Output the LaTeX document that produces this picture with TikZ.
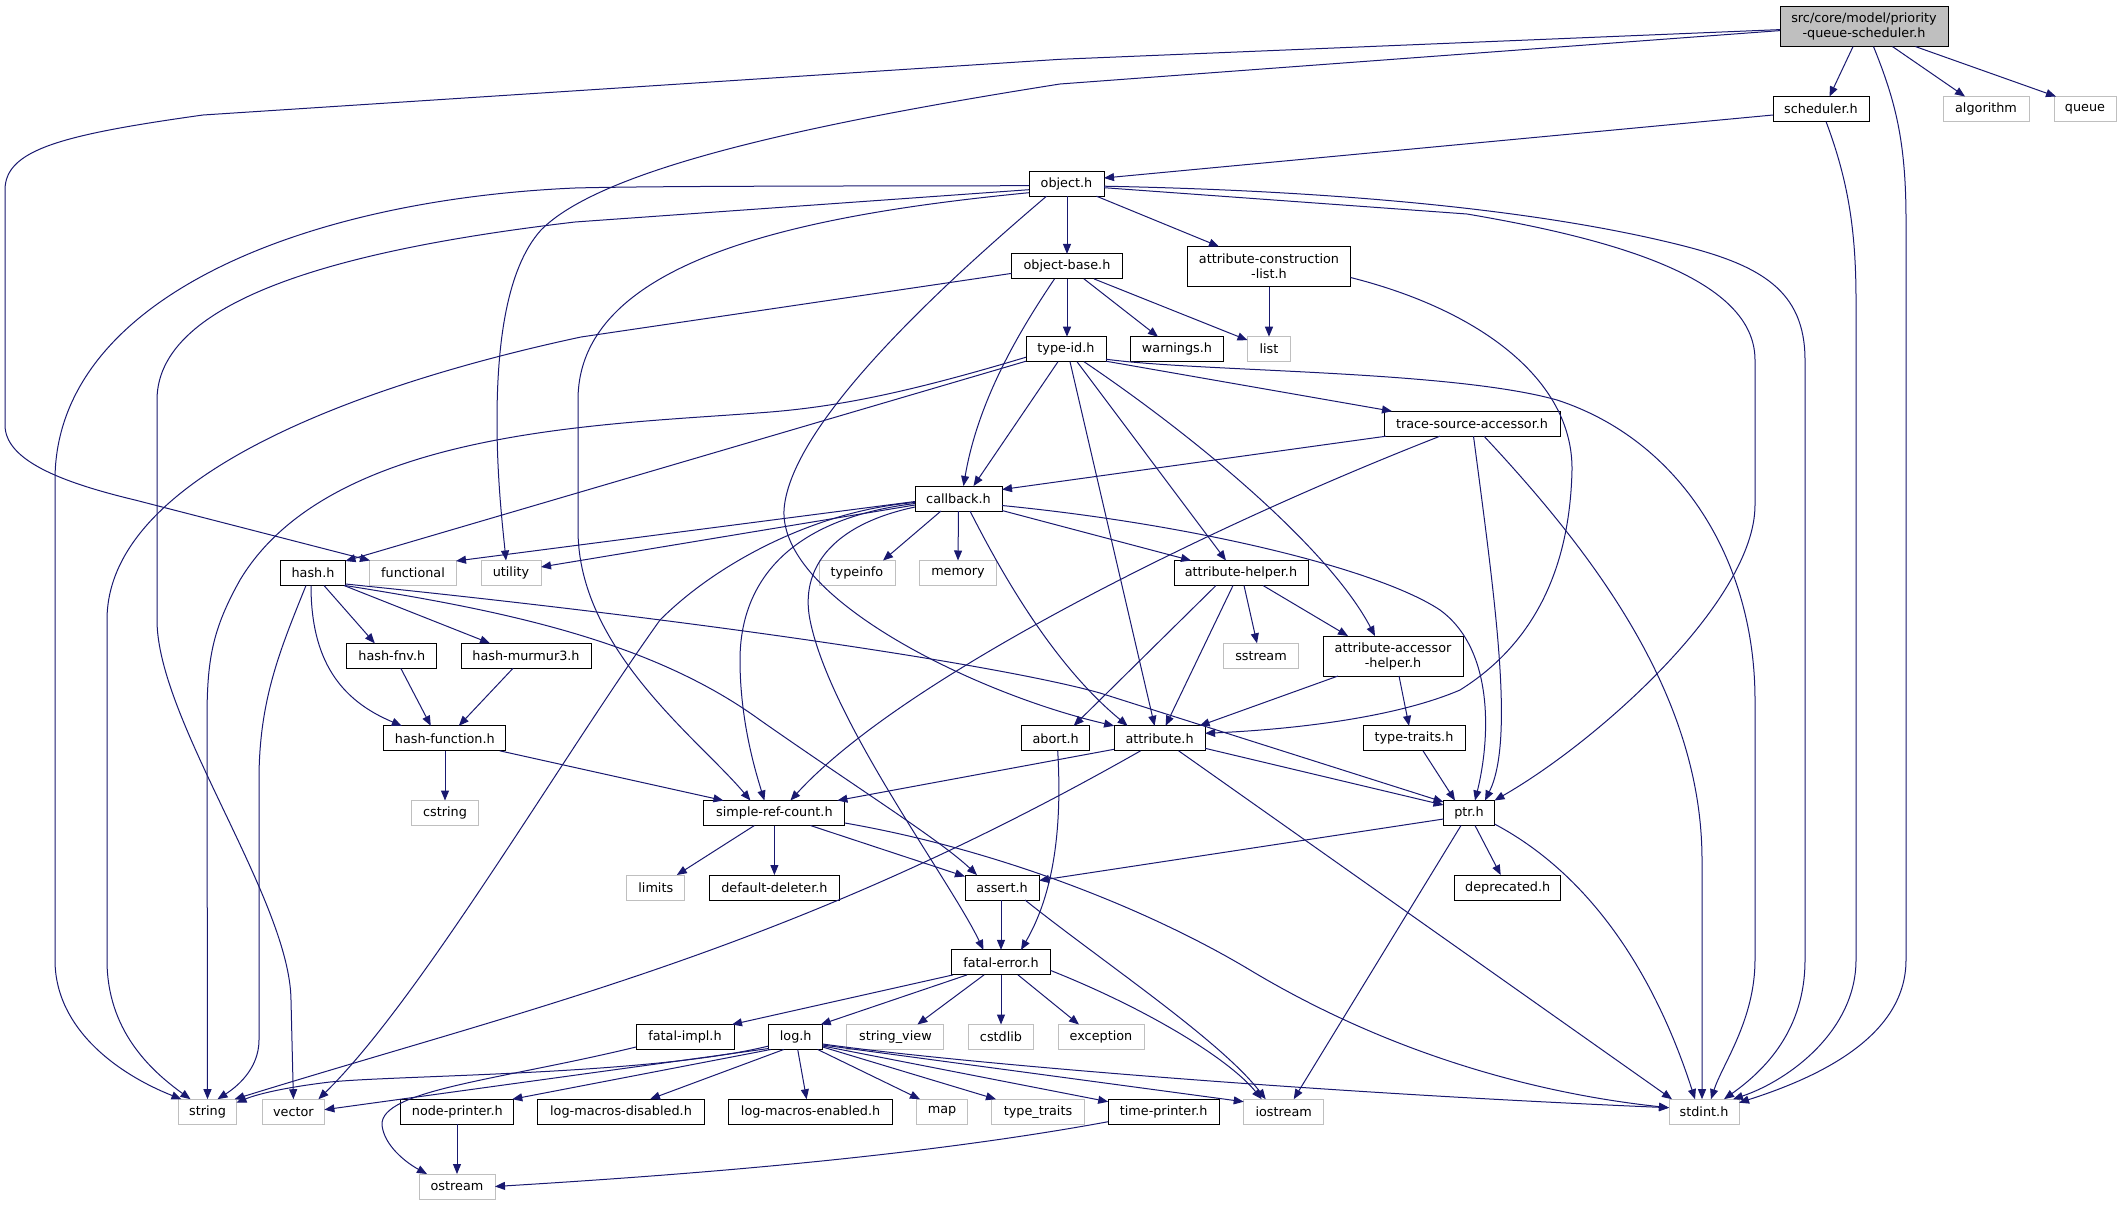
\documentclass[tikz,border=0pt]{standalone}
\usepackage{fontspec}
\setmainfont{DejaVu Sans}
\usetikzlibrary{arrows.meta,calc}
\definecolor{edgeblue}{HTML}{191970}
\definecolor{sysgrey}{HTML}{BFBFBF}
\definecolor{rootgrey}{HTML}{BFBFBF}
\tikzset{
  box/.style={draw, line width=1pt, fill=white, inner sep=0pt, minimum height=25pt,
    font=\fontsize{12.8}{15}\selectfont, align=center},
  proj/.style={box, draw=black},
  sys/.style={box, draw=sysgrey},
  e/.style={draw=edgeblue, line width=1pt, -{Triangle[length=10pt,width=8pt]}},
}
\begin{document}
\begin{tikzpicture}[x=1pt,y=-1pt]
\fill[white] (0,0) rectangle (2123,1205);
\useasboundingbox (0,0) rectangle (2123,1205);

% ---------------- nodes ----------------
\node[proj, fill=rootgrey, minimum width=168pt, minimum height=40pt] (root) at (1864,26.6) {src/core/model/priority\\-queue-scheduler.h};
\node[proj, minimum width=96pt] (sched) at (1821,109) {scheduler.h};
\node[sys, minimum width=86pt] (algorithm) at (1986,109) {algorithm};
\node[sys, minimum width=62pt] (queue) at (2085,109) {queue};
\node[proj, minimum width=75pt] (object) at (1066.5,183.7) {object.h};
\node[proj, minimum width=111pt] (objbase) at (1067,266.4) {object-base.h};
\node[proj, minimum width=163pt, minimum height=40pt] (acl) at (1269,266.5) {attribute-construction\\-list.h};
\node[proj, minimum width=80pt] (typeid) at (1066,349.2) {type-id.h};
\node[proj, minimum width=93pt] (warnings) at (1177,349.2) {warnings.h};
\node[sys, minimum width=43pt] (list) at (1269,349.2) {list};
\node[proj, minimum width=176pt] (tsa) at (1472,423.7) {trace-source-accessor.h};
\node[proj, minimum width=87pt] (callback) at (958.5,498.5) {callback.h};
\node[proj, minimum width=65pt] (hash) at (313,573) {hash.h};
\node[sys, minimum width=87pt] (functional) at (413,573) {functional};
\node[sys, minimum width=60pt] (utility) at (511,573) {utility};
\node[sys, minimum width=76pt] (typeinfo) at (857,573) {typeinfo};
\node[sys, minimum width=77pt] (memory) at (958,573) {memory};
\node[proj, minimum width=134pt] (ahelper) at (1241,573) {attribute-helper.h};
\node[proj, minimum width=90pt] (hashfnv) at (391.8,655.8) {hash-fnv.h};
\node[proj, minimum width=130pt] (murmur) at (526,655.8) {hash-murmur3.h};
\node[sys, minimum width=75pt] (sstream) at (1261,655.8) {sstream};
\node[proj, minimum width=140pt, minimum height=40pt] (aah) at (1393,656) {attribute-accessor\\-helper.h};
\node[proj, minimum width=122pt] (hashfn) at (444.8,738.3) {hash-function.h};
\node[proj, minimum width=68pt] (abort) at (1055.7,738.3) {abort.h};
\node[proj, minimum width=91pt] (attribute) at (1159.6,738.3) {attribute.h};
\node[proj, minimum width=102pt] (typetraits) at (1414,738.3) {type-traits.h};
\node[sys, minimum width=67pt] (cstring) at (445,813) {cstring};
\node[proj, minimum width=141pt] (src) at (774.4,813) {simple-ref-count.h};
\node[proj, minimum width=51pt] (ptr) at (1469,813) {ptr.h};
\node[sys, minimum width=58pt] (limits) at (655.8,887.5) {limits};
\node[proj, minimum width=130pt] (deleter) at (774.4,887.5) {default-deleter.h};
\node[proj, minimum width=74pt] (assert) at (1002,887.5) {assert.h};
\node[proj, minimum width=106pt] (deprecated) at (1507.7,887.5) {deprecated.h};
\node[proj, minimum width=99pt] (fatal) at (1001,962.4) {fatal-error.h};
\node[proj, minimum width=98pt] (fatalimpl) at (685,1037) {fatal-impl.h};
\node[proj, minimum width=54pt] (log) at (795.7,1037) {log.h};
\node[sys, minimum width=97pt] (stringview) at (895.4,1037) {string\_view};
\node[sys, minimum width=65pt] (cstdlib) at (1001,1037) {cstdlib};
\node[sys, minimum width=86pt] (exception) at (1101,1037) {exception};
\node[sys, minimum width=58pt] (string) at (207.5,1111.7) {string};
\node[sys, minimum width=62pt] (vector) at (293.4,1111.7) {vector};
\node[proj, minimum width=113pt] (nodeprinter) at (457.3,1111.7) {node-printer.h};
\node[proj, minimum width=167pt] (lmd) at (621,1111.7) {log-macros-disabled.h};
\node[proj, minimum width=164pt] (lme) at (810.6,1111.7) {log-macros-enabled.h};
\node[sys, minimum width=51pt] (map) at (942,1111.7) {map};
\node[sys, minimum width=93pt] (tts) at (1038,1111.7) {type\_traits};
\node[proj, minimum width=111pt] (timeprinter) at (1163.7,1111.7) {time-printer.h};
\node[sys, minimum width=80pt] (iostream) at (1283.7,1111.7) {iostream};
\node[sys, minimum width=70pt] (stdint) at (1704,1111.7) {stdint.h};
\node[sys, minimum width=76pt] (ostream) at (457,1186.5) {ostream};

% ---------------- edges ----------------
% root
\draw[e] ($(root)+(-11,20)$) -- ($(sched)+(8.5,-12.5)$);
\draw[e] ($(root)+(28.5,20)$) -- ($(algorithm)+(-21,-12.5)$);
\draw[e] ($(root)+(51.5,20)$) -- ($(queue)+(-29,-12.5)$);
\draw[e] ($(root)+(9.5,20)$) .. controls (1895,100) and (1906,140) .. (1906,220) -- (1906,960)
   .. controls (1906,1040) and (1810,1080) .. ($(stdint)+(35,-9)$);
\draw[e] ($(root)+(-84,3)$) -- (1060,59.3) -- (203,115) .. controls (60,135) and (5,150) .. (5,190) -- (5,425)
   .. controls (5,460) and (60,482) .. (135,500) -- ($(functional)+(-43,-12.5)$);
\draw[e] ($(root)+(-84,4)$) -- (1060,84) .. controls (800,125) and (600,170) .. (541,230)
   .. controls (505,270) and (497,350) .. (497,421) .. controls (497,480) and (503,530) .. ($(utility)+(-5,-12.5)$);
% scheduler
\draw[e] ($(sched)+(-48,6)$) -- ($(object)+(37.5,-5.7)$);
\draw[e] ($(sched)+(5,12.5)$) .. controls (1848,180) and (1856,230) .. (1856,300) -- (1856,960)
   .. controls (1856,1030) and (1790,1080) .. ($(stdint)+(29,-12.5)$);
% object
\draw[e] ($(object)+(0.5,12.5)$) -- ($(objbase)+(0,-12.5)$);
\draw[e] ($(object)+(30,12.5)$) -- ($(acl)+(-50,-20)$);
\draw[e] ($(object)+(-20,12.5)$) .. controls (960,270) and (790,420) .. (784,510)
   .. controls (780,600) and (980,695) .. ($(attribute)+(-45.5,-12.5)$);
\draw[e] ($(object)+(37.5,4)$) -- (1467,214) .. controls (1620,240) and (1755,280) .. (1755,360) -- (1755,505)
   .. controls (1755,600) and (1600,740) .. ($(ptr)+(25.5,-12.5)$);
\draw[e] ($(object)+(37.5,2.5)$) .. controls (1300,190) and (1520,205) .. (1680,245)
   .. controls (1760,265) and (1805,290) .. (1805,360) -- (1805,960)
   .. controls (1805,1030) and (1765,1070) .. ($(stdint)+(20,-12.5)$);
\draw[e] ($(object)+(-37.5,9)$) .. controls (800,215) and (578,260) .. (578,400) -- (578,530)
   .. controls (578,650) and (700,740) .. ($(src)+(-24,-12.5)$);
\draw[e] ($(object)+(-37.5,2)$) .. controls (850,186) and (650,186) .. (575,188)
   .. controls (300,200) and (55,300) .. (55,480) -- (55,960)
   .. controls (55,1030) and (120,1075) .. ($(string)+(-26,-12.5)$);
\draw[e] ($(object)+(-37.5,6)$) -- (575,222) .. controls (380,245) and (157,290) .. (157,400) -- (157,620)
   .. controls (157,720) and (290,900) .. (291,1000) -- ($(vector)+(0,-12.5)$);
% object-base
\draw[e] ($(objbase)+(-12.5,12.5)$) .. controls (1020,330) and (978,400) .. ($(callback)+(5,-12.5)$);
\draw[e] ($(objbase)+(0,12.5)$) -- ($(typeid)+(1,-12.5)$);
\draw[e] ($(objbase)+(17,12.5)$) -- ($(warnings)+(-19,-12.5)$);
\draw[e] ($(objbase)+(27,12.5)$) -- ($(list)+(-21.5,-9)$);
\draw[e] ($(objbase)+(-55.5,7)$) -- (581,337) .. controls (380,380) and (107,470) .. (107,620) -- (107,960)
   .. controls (107,1030) and (150,1070) .. ($(string)+(-17,-12.5)$);
% attribute-construction-list
\draw[e] ($(acl)+(0,20)$) -- ($(list)+(0,-12.5)$);
\draw[e] ($(acl)+(81.5,11)$) .. controls (1480,310) and (1573,380) .. (1572,470)
   .. controls (1570,560) and (1540,640) .. (1460,690)
   .. controls (1390,720) and (1280,730) .. ($(attribute)+(45.5,-5)$);
% type-id
\draw[e] ($(typeid)+(4,12.5)$) -- ($(attribute)+(-5,-12.5)$);
\draw[e] ($(typeid)+(11,12.5)$) -- ($(ahelper)+(-15,-12.5)$);
\draw[e] ($(typeid)+(18,12.5)$) .. controls (1200,440) and (1330,550) .. ($(aah)+(-18,-20)$);
\draw[e] ($(typeid)+(-8,12.5)$) -- ($(callback)+(15,-12.5)$);
\draw[e] ($(typeid)+(-40,12)$) -- ($(hash)+(32.5,-12)$);
\draw[e] ($(typeid)+(-40,8)$) .. controls (900,395) and (830,408) .. (757,413)
   .. controls (600,425) and (330,430) .. (240,580)
   .. controls (212,630) and (207,660) .. (207,720) -- ($(string)+(0,-12.5)$);
\draw[e] ($(typeid)+(40,12)$) -- ($(tsa)+(-80,-12.5)$);
\draw[e] ($(typeid)+(40,10)$) .. controls (1200,372) and (1450,370) .. (1557,400)
   .. controls (1680,440) and (1755,560) .. (1755,700) -- (1755,960)
   .. controls (1755,1020) and (1722,1065) .. ($(stdint)+(7,-12.5)$);
% trace-source-accessor
\draw[e] ($(tsa)+(-86,12.5)$) -- ($(callback)+(43.5,-9)$);
\draw[e] ($(tsa)+(-32,12.5)$) .. controls (1200,530) and (900,680) .. ($(src)+(16,-12.5)$);
\draw[e] ($(tsa)+(1.5,12.5)$) .. controls (1495,600) and (1515,740) .. ($(ptr)+(16,-12.5)$);
\draw[e] ($(tsa)+(12,12.5)$) .. controls (1600,560) and (1702,700) .. (1702,860) -- ($(stdint)+(-2,-12.5)$);
% callback
\draw[e] ($(callback)+(-43.5,3)$) -- ($(functional)+(43,-12)$);
\draw[e] ($(callback)+(-43.5,6.5)$) -- ($(utility)+(30,-6)$);
\draw[e] ($(callback)+(-17.5,12.5)$) -- ($(typeinfo)+(26,-12.5)$);
\draw[e] ($(callback)+(0,12.5)$) -- ($(memory)+(0,-12.5)$);
\draw[e] ($(callback)+(43.5,12)$) -- ($(ahelper)+(-50,-12.5)$);
\draw[e] ($(callback)+(11.5,12.5)$) .. controls (1010,590) and (1060,670) .. ($(attribute)+(-32,-12.5)$);
\draw[e] ($(callback)+(43.5,7)$) .. controls (1200,525) and (1380,570) .. (1440,610)
   .. controls (1495,650) and (1490,740) .. ($(ptr)+(6,-12.5)$);
\draw[e] ($(callback)+(-43.5,5)$) .. controls (780,520) and (740,590) .. (740,660)
   .. controls (740,720) and (755,770) .. ($(src)+(-10,-12.5)$);
\draw[e] ($(callback)+(-43.5,4)$) .. controls (820,510) and (720,560) .. (660,620)
   .. controls (560,760) and (420,1000) .. ($(vector)+(25,-12.5)$);
\draw[e] ($(callback)+(-43.5,8.5)$) .. controls (830,525) and (800,570) .. (810,620)
   .. controls (830,720) and (950,880) .. ($(fatal)+(-17.5,-12.5)$);
% hash
\draw[e] ($(hash)+(-7,12.5)$) .. controls (280,650) and (259,700) .. (259,780) -- (259,1040)
   .. controls (259,1070) and (235,1088) .. ($(string)+(10,-12.5)$);
\draw[e] ($(hash)+(-2,12.5)$) .. controls (311,660) and (340,700) .. ($(hashfn)+(-43,-12.5)$);
\draw[e] ($(hash)+(11,12.5)$) -- ($(hashfnv)+(-17,-12.5)$);
\draw[e] ($(hash)+(31,12.5)$) -- ($(murmur)+(-36,-12.5)$);
\draw[e] ($(hash)+(32.5,11)$) .. controls (700,620) and (1000,665) .. (1100,693) -- ($(ptr)+(-25.5,-11)$);
\draw[e] ($(hash)+(32,12.5)$) .. controls (500,610) and (650,640) .. (760,720)
   .. controls (860,790) and (940,840) .. ($(assert)+(-25,-12.5)$);
\draw[e] ($(hashfnv)+(9,12.5)$) -- ($(hashfn)+(-14,-12.5)$);
\draw[e] ($(murmur)+(-13,12.5)$) -- ($(hashfn)+(14,-12.5)$);
\draw[e] ($(hashfn)+(0.2,12.5)$) -- ($(cstring)+(0,-12.5)$);
\draw[e] ($(hashfn)+(55,12.5)$) -- ($(src)+(-51,-12.5)$);
% attribute-helper
\draw[e] ($(ahelper)+(-25,12.5)$) -- ($(abort)+(18,-12.5)$);
\draw[e] ($(ahelper)+(-8,12.5)$) -- ($(attribute)+(6,-12.5)$);
\draw[e] ($(ahelper)+(3,12.5)$) -- ($(sstream)+(-4,-12.5)$);
\draw[e] ($(ahelper)+(22,12.5)$) -- ($(aah)+(-45,-20)$);
% attribute-accessor-helper
\draw[e] ($(aah)+(-55,20)$) -- ($(attribute)+(40,-12.5)$);
\draw[e] ($(aah)+(6,20)$) -- ($(typetraits)+(-5,-12.5)$);
% abort
\draw[e] ($(abort)+(2,12.5)$) .. controls (1063,840) and (1050,900) .. ($(fatal)+(20,-12.5)$);
% attribute
\draw[e] ($(attribute)+(-45.5,11)$) -- ($(src)+(63,-12.5)$);
\draw[e] ($(attribute)+(-19,12.5)$) .. controls (790,950) and (536,1006) .. ($(string)+(27,-12.5)$);
\draw[e] ($(attribute)+(19,12.5)$) -- ($(stdint)+(-32,-12.5)$);
\draw[e] ($(attribute)+(45.5,10)$) -- ($(ptr)+(-25.5,-8)$);
% type-traits
\draw[e] ($(typetraits)+(9,12.5)$) -- ($(ptr)+(-14,-12.5)$);
% ptr
\draw[e] ($(ptr)+(-25.5,6)$) -- ($(assert)+(37,-7)$);
\draw[e] ($(ptr)+(6,12.5)$) -- ($(deprecated)+(-7,-12.5)$);
\draw[e] ($(ptr)+(-8,12.5)$) -- ($(iostream)+(10,-12.5)$);
\draw[e] ($(ptr)+(25.5,11)$) .. controls (1600,880) and (1660,990) .. ($(stdint)+(-9,-12.5)$);
% simple-ref-count
\draw[e] ($(src)+(36,12.5)$) -- ($(assert)+(-37,-11)$);
\draw[e] ($(src)+(0,12.5)$) -- ($(deleter)+(0,-12.5)$);
\draw[e] ($(src)+(-20,12.5)$) -- ($(limits)+(21,-12.5)$);
\draw[e] ($(src)+(70.5,10)$) .. controls (1000,850) and (1150,910) .. (1250,970)
   .. controls (1400,1060) and (1550,1095) .. ($(stdint)+(-35,-4)$);
% assert
\draw[e] ($(assert)+(-1,12.5)$) -- ($(fatal)+(0,-12.5)$);
\draw[e] ($(assert)+(23,12.5)$) .. controls (1100,960) and (1220,1040) .. ($(iostream)+(-18,-12.5)$);
% fatal-error
\draw[e] ($(fatal)+(-48,12.5)$) -- ($(fatalimpl)+(47,-12.5)$);
\draw[e] ($(fatal)+(-34,12.5)$) -- ($(log)+(25,-12.5)$);
\draw[e] ($(fatal)+(-17,12.5)$) -- ($(stringview)+(22,-12.5)$);
\draw[e] ($(fatal)+(0,12.5)$) -- ($(cstdlib)+(0,-12.5)$);
\draw[e] ($(fatal)+(17,12.5)$) -- ($(exception)+(-22,-12.5)$);
\draw[e] ($(fatal)+(49.5,8)$) .. controls (1150,1010) and (1230,1060) .. ($(iostream)+(-22,-12.5)$);
% fatal-impl
\draw[e] ($(fatalimpl)+(-49,10)$) .. controls (500,1080) and (380,1090) .. (382,1125)
   .. controls (384,1145) and (405,1162) .. ($(ostream)+(-30,-12.5)$);
% log
\draw[e] ($(log)+(-27,9)$) .. controls (650,1075) and (400,1075) .. (330,1082)
   .. controls (280,1088) and (255,1095) .. ($(string)+(29,-9)$);
\draw[e] ($(log)+(-27,11.5)$) -- ($(vector)+(31,-2)$);
\draw[e] ($(log)+(-25,12.5)$) -- ($(nodeprinter)+(55,-12.5)$);
\draw[e] ($(log)+(-12,12.5)$) -- ($(lmd)+(29,-12.5)$);
\draw[e] ($(log)+(2,12.5)$) -- ($(lme)+(-4,-12.5)$);
\draw[e] ($(log)+(22,12.5)$) -- ($(map)+(-22,-12.5)$);
\draw[e] ($(log)+(27,10)$) -- ($(tts)+(-42,-12.5)$);
\draw[e] ($(log)+(27,9)$) -- ($(timeprinter)+(-55.5,-10)$);
\draw[e] ($(log)+(27,8)$) -- ($(iostream)+(-40,-10)$);
\draw[e] ($(log)+(27,7)$) .. controls (950,1062) and (1300,1092) .. ($(stdint)+(-35,-4)$);
% printers
\draw[e] ($(nodeprinter)+(-0.3,12.5)$) -- ($(ostream)+(0,-12.5)$);
\draw[e] ($(timeprinter)+(-55.5,10)$) .. controls (900,1160) and (650,1177) .. ($(ostream)+(38,0)$);
\end{tikzpicture}
\end{document}
